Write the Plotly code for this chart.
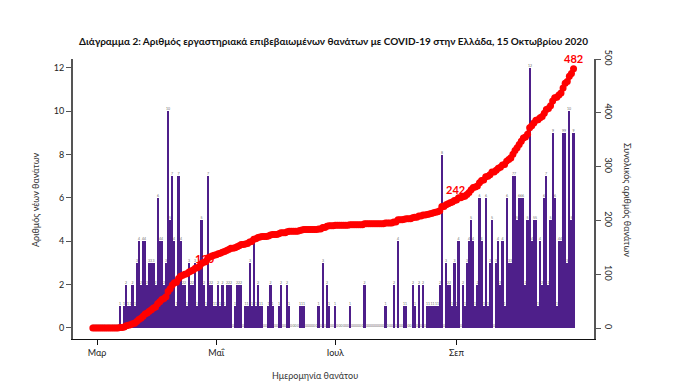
import numpy as np
import pandas as pd
import plotly.graph_objects as go

# ---- data: daily laboratory-confirmed COVID-19 deaths, Greece ----
start_date = "2020-02-28"
feb = [0, 0]
mar = [0, 0, 0, 0, 0, 0, 0, 0, 0, 0, 0, 1, 0, 1, 2, 1, 1, 2, 1, 3, 4, 2, 4, 4, 2, 3, 3, 3, 2, 6, 4]
apr = [4, 2, 3, 10, 5, 7, 4, 1, 7, 4, 2, 2, 1, 3, 2, 2, 3, 1, 3, 5, 2, 1, 7, 2, 2, 1, 1, 2, 1, 2]
may = [1, 2, 2, 2, 0, 1, 2, 2, 2, 0, 1, 1, 3, 1, 4, 1, 2, 1, 1, 0, 0, 1, 2, 1, 0, 0, 1, 2, 0, 0, 2]
jun = [1, 0, 0, 0, 0, 1, 1, 1, 0, 0, 0, 0, 0, 0, 1, 0, 3, 0, 2, 1, 0, 0, 1, 0, 0, 0, 0, 0, 0, 1]
jul = [0, 0, 0, 0, 0, 0, 2, 0, 0, 0, 0, 0, 0, 0, 0, 0, 1, 0, 0, 0, 2, 0, 4, 0, 0, 1, 1, 0, 0, 2, 1]
aug = [0, 2, 0, 2, 0, 1, 1, 1, 1, 1, 1, 2, 8, 0, 3, 2, 2, 1, 3, 1, 4, 0, 2, 1, 3, 4, 5, 4, 1, 2, 6]
sep = [4, 1, 6, 1, 3, 5, 0, 3, 4, 2, 4, 1, 6, 3, 3, 7, 7, 5, 6, 6, 6, 2, 5, 12, 4, 5, 5, 1, 4, 2]
octo = [6, 7, 2, 5, 9, 6, 1, 4, 4, 9, 9, 3, 10, 5, 9]

month_ticks = ["2020-03-01", "2020-04-27", "2020-06-23", "2020-08-20"]
month_labels = ["Μαρ", "Μαΐ", "Ιουλ", "Σεπ"]
left_ticks = [0, 2, 4, 6, 8, 10, 12]
right_ticks = [0, 100, 200, 300, 400, 500]
highlight_values = [130, 242]

deaths = feb + mar + apr + may + jun + jul + aug + sep + octo
dates = pd.date_range(start_date, periods=len(deaths), freq="D")
cum = np.cumsum(deaths)

FONT = "Lato"
PURPLE = "#4e1f8a"
RED = "#ff0000"
AX = "#555555"

# page body has an 8px offset; figure is sized to the remaining window
W, H = 670, 384
ML, MR, MT, MB = 65, 84, 51, 53
PW, PH = W - ML - MR, H - MT - MB


def px_x(x):  # window pixel -> paper fraction
    return (x - 8 - ML) / PW


def px_y(y):
    return (H - MB - (y - 8)) / PH


fig = go.Figure()
fig.add_trace(go.Bar(
    x=dates, y=deaths, width=86400000 * 1.05, marker=dict(color=PURPLE, line=dict(width=0)),
    text=[str(v) for v in deaths], textposition="outside", constraintext="none",
    textfont=dict(size=3.5, color="#6d6d6d", family=FONT), cliponaxis=False,
    showlegend=False,
))
fig.add_trace(go.Scatter(
    x=dates, y=cum, yaxis="y2", mode="lines+markers",
    line=dict(color=RED, width=4), marker=dict(color=RED, size=7),
    showlegend=False,
))

annotations = []
for hv in highlight_values:
    i = int(np.argmax(cum >= hv))
    annotations.append(dict(x=dates[i], y=float(cum[i]), xref="x", yref="y2",
                            text=f"<b>{cum[i]}</b>", showarrow=False,
                            font=dict(family=FONT, size=11, color=RED),
                            xshift=-3, yshift=8 if hv > 200 else 0))
annotations.append(dict(x=dates[-1], y=float(cum[-1]), xref="x", yref="y2",
                        text=f"<b>{cum[-1]}</b>", showarrow=False,
                        font=dict(family=FONT, size=11, color=RED), yshift=10))
annotations += [
    dict(x=px_x(35), y=px_y(200), xref="paper", yref="paper", xanchor="center", yanchor="middle",
         text="Αριθμός νέων θανάτων", textangle=-90, showarrow=False,
         font=dict(family=FONT, size=9, color="#333")),
    dict(x=px_x(315), y=px_y(375), xref="paper", yref="paper", xanchor="center",
         yanchor="middle", text="Ημερομηνία θανάτου", showarrow=False,
         font=dict(family=FONT, size=9, color="#333")),
    dict(x=px_x(628), y=px_y(200), xref="paper", yref="paper",
         xanchor="center", yanchor="middle", text="Συνολικός αριθμός θανάτων",
         textangle=90, showarrow=False, font=dict(family=FONT, size=9, color="#333")),
]

fig.update_layout(
    width=W, height=H, autosize=False,
    margin=dict(l=ML, r=MR, t=MT, b=MB),
    paper_bgcolor="white", plot_bgcolor="white",
    bargap=0,
    title=dict(text="<b>Διάγραμμα 2: Αριθμός εργαστηριακά επιβεβαιωμένων θανάτων με COVID-19 στην Ελλάδα, 15 Οκτωβρίου 2020</b>",
               x=0.5, xref="paper", xanchor="center", y=1 - (41 - 8) / H, yanchor="middle",
               font=dict(family=FONT, size=10, color="#111")),
    xaxis=dict(type="date", range=["2020-02-18 12:00", "2020-10-24 19:00"],
               tickvals=month_ticks, ticktext=month_labels,
               showline=True, linecolor="#111", linewidth=1.2,
               ticks="outside", ticklen=5, tickcolor="#111",
               tickfont=dict(family=FONT, size=9, color="#222"),
               showgrid=False, zeroline=False),
    yaxis=dict(range=[-0.508, 12.415], tickvals=left_ticks,
               showline=True, linecolor=AX, linewidth=2,
               ticks="outside", ticklen=5, tickcolor=AX,
               tickfont=dict(family=FONT, size=9, color="#222"),
               showgrid=False, zeroline=False),
    yaxis2=dict(range=[-20.45, 500], tickvals=right_ticks, overlaying="y", side="right",
                showline=True, linecolor=AX, linewidth=2,
                ticks="outside", ticklen=5, tickcolor=AX, tickangle=90,
                tickfont=dict(family=FONT, size=9, color="#222"),
                showgrid=False, zeroline=False),
    annotations=annotations,
    font=dict(family=FONT),
)

fig.write_html("out.html")
